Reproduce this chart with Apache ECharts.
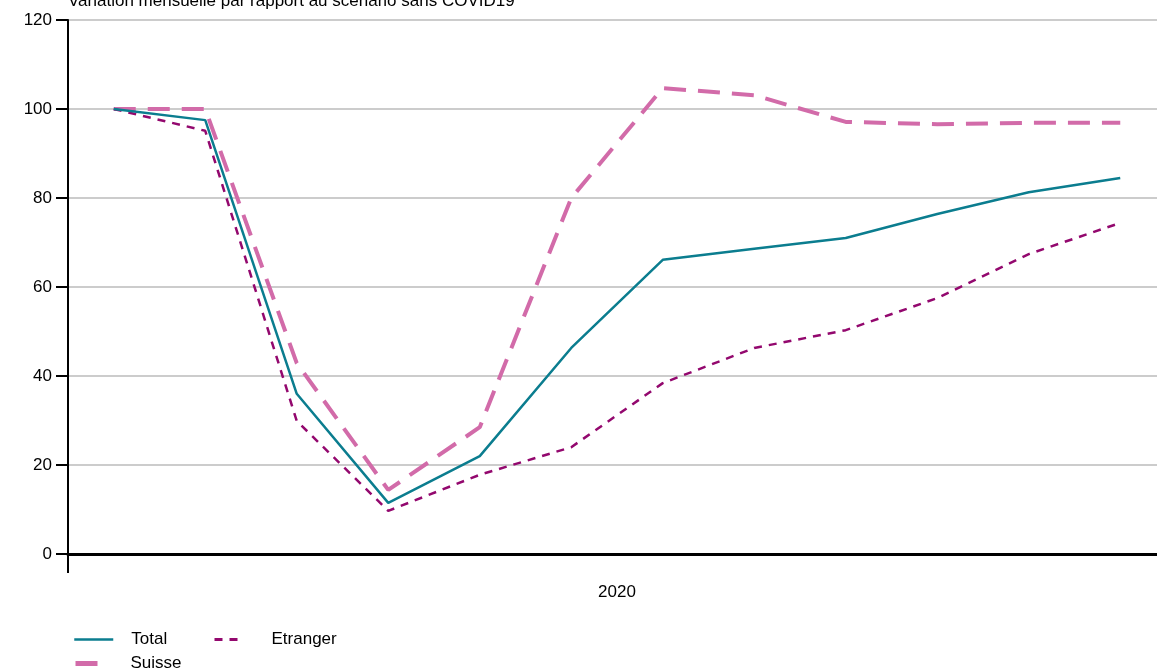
<!DOCTYPE html>
<html>
<head>
<meta charset="utf-8">
<script src="https://cdn.jsdelivr.net/npm/echarts@6/dist/echarts.min.js"></script>
<style>
  html, body { margin: 0; padding: 0; background: #fff; }
  #chart { width: 1157px; height: 670px; }
</style>
</head>
<body>
<div id="chart"></div>
<script>
const months = ['Jan', 'Fév', 'Mar', 'Avr', 'Mai', 'Juin', 'Juil', 'Août', 'Sep', 'Oct', 'Nov', 'Déc'];
const years = ['2020'];
const total = [100, 97.5, 36.0, 11.5, 22.0, 46.3, 66.1, 68.6, 71.0, 76.4, 81.3, 84.5];
const suisse = [100, 100, 42.9, 14.4, 28.5, 80.0, 104.7, 103.1, 97.1, 96.6, 96.9, 96.9];
const etranger = [100, 95.1, 29.9, 9.7, 17.8, 24.0, 38.4, 46.3, 50.3, 57.5, 67.4, 74.4];

const font = 'Liberation Sans, Arial, sans-serif';
const chart = echarts.init(document.getElementById('chart'));

function legendFor(name, left, top, width, gap, lineWidth) {
  return {
    data: [name],
    left: left,
    top: top,
    padding: 0,
    itemWidth: width,
    itemHeight: 14,
    itemStyle: { opacity: 0 },
    lineStyle: { width: lineWidth },
    textStyle: { fontFamily: font, fontSize: 17, color: '#000', padding: [0, 0, 0, gap] }
  };
}

const option = {
  animation: false,
  title: {
    text: 'Variation mensuelle par rapport au scénario sans COVID19',
    left: 68,
    top: -7,
    padding: 0,
    textStyle: { fontFamily: font, fontSize: 17, fontWeight: 'normal', color: '#000' }
  },
  legend: [
    legendFor('Total', 73, 631, 39, 13, 2.5),
    legendFor('Suisse', 73, 655, 25, 25, 5),
    legendFor('Etranger', 213, 631, 30, 22, 3)
  ],
  grid: { left: 68, width: 1098, top: 20, bottom: 116, outerBoundsMode: 'none' },
  xAxis: [{
    type: 'category',
    data: years,
    boundaryGap: true,
    position: 'bottom',
    axisLine: { show: true, lineStyle: { color: '#000', width: 3 } },
    axisTick: { show: true, length: 19, lineStyle: { color: '#000', width: 2 } },
    axisLabel: { fontFamily: font, fontSize: 17, color: '#000', margin: 30 }
  }, {
    type: 'category',
    data: months,
    boundaryGap: true,
    show: false
  }],
  yAxis: {
    type: 'value',
    min: 0,
    max: 120,
    interval: 20,
    axisLine: { show: true, lineStyle: { color: '#000', width: 2 } },
    axisTick: { show: true, length: 12, lineStyle: { color: '#000', width: 2 } },
    axisLabel: { fontFamily: font, fontSize: 17, color: '#000', margin: 16 },
    splitLine: { show: true, lineStyle: { color: '#cccccc', width: 2 } }
  },
  series: [{
    name: 'Total',
    type: 'line',
    xAxisIndex: 1,
    data: total,
    symbol: 'none',
    z: 3,
    itemStyle: { color: '#0b7d8f' },
    lineStyle: { color: '#0b7d8f', width: 2.5 }
  }, {
    name: 'Suisse',
    type: 'line',
    xAxisIndex: 1,
    data: suisse,
    symbol: 'none',
    z: 2,
    itemStyle: { color: '#d26ba9' },
    lineStyle: { color: '#d26ba9', width: 4, type: [22, 12] }
  }, {
    name: 'Etranger',
    type: 'line',
    xAxisIndex: 1,
    data: etranger,
    symbol: 'none',
    z: 2,
    itemStyle: { color: '#93086e' },
    lineStyle: { color: '#93086e', width: 2.5, type: [8, 7] }
  }]
};

chart.setOption(option);
</script>
</body>
</html>
